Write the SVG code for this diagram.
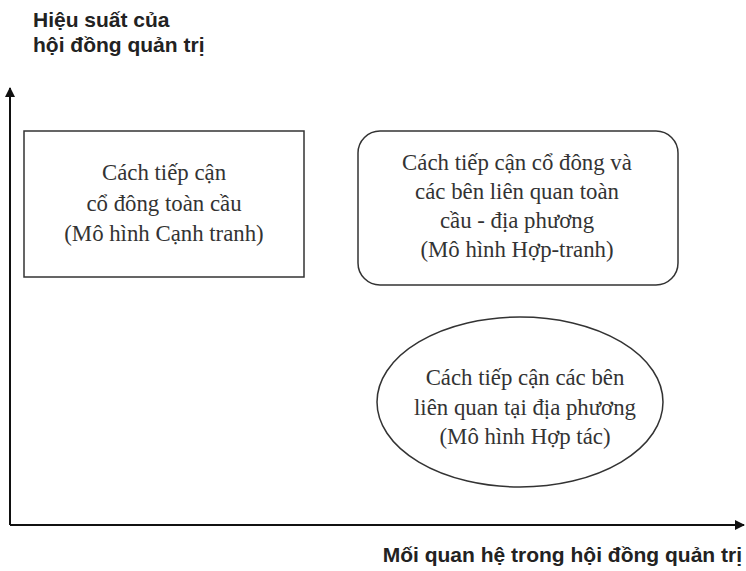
<svg xmlns="http://www.w3.org/2000/svg" width="746" height="571" viewBox="0 0 746 571">
<style>
.lbl{font-family:"Liberation Sans",Arial,sans-serif;font-weight:bold;font-size:21px;fill:#222}
.nt{font-family:"Liberation Serif","Times New Roman",serif;font-size:22.8px;fill:#333;text-anchor:middle}
.shape{fill:#fff;stroke:#333;stroke-width:1.5}
.axis{stroke:#111;stroke-width:2;fill:none}
</style>
<defs>
<marker id="ah" markerWidth="10" markerHeight="10" refX="9" refY="5" orient="auto" markerUnits="userSpaceOnUse">
<path d="M0,0 L10,5 L0,10 Z" fill="#111"/>
</marker>
</defs>
<g id="axes">
<line class="axis" x1="10" y1="525" x2="10" y2="88" marker-end="url(#ah)"/>
<line class="axis" x1="10" y1="525" x2="744" y2="525" marker-end="url(#ah)"/>
</g>
<g id="yLabel">
<text class="lbl" x="33" y="27">Hiệu suất của</text>
<text class="lbl" x="33" y="52">hội đồng quản trị</text>
</g>
<g id="xLabel">
<text class="lbl" x="742" y="562" text-anchor="end">Mối quan hệ trong hội đồng quản trị</text>
</g>
<g id="competitive">
<rect class="shape" x="24" y="131" width="280" height="146"/>
<text class="nt" x="164" y="180">Cách tiếp cận</text>
<text class="nt" x="164" y="211">cổ đông toàn cầu</text>
<text class="nt" x="164" y="241">(Mô hình Cạnh tranh)</text>
</g>
<g id="coopetition">
<rect class="shape" x="358" y="131" width="320" height="154" rx="22" ry="22"/>
<text class="nt" x="517" y="170">Cách tiếp cận cổ đông và</text>
<text class="nt" x="517" y="199">các bên liên quan toàn</text>
<text class="nt" x="517" y="228">cầu - địa phương</text>
<text class="nt" x="517" y="257">(Mô hình Hợp-tranh)</text>
</g>
<g id="cooperative">
<ellipse class="shape" cx="520" cy="402" rx="143" ry="85"/>
<text class="nt" x="525" y="385">Cách tiếp cận các bên</text>
<text class="nt" x="525" y="415">liên quan tại địa phương</text>
<text class="nt" x="525" y="444">(Mô hình Hợp tác)</text>
</g>
</svg>
